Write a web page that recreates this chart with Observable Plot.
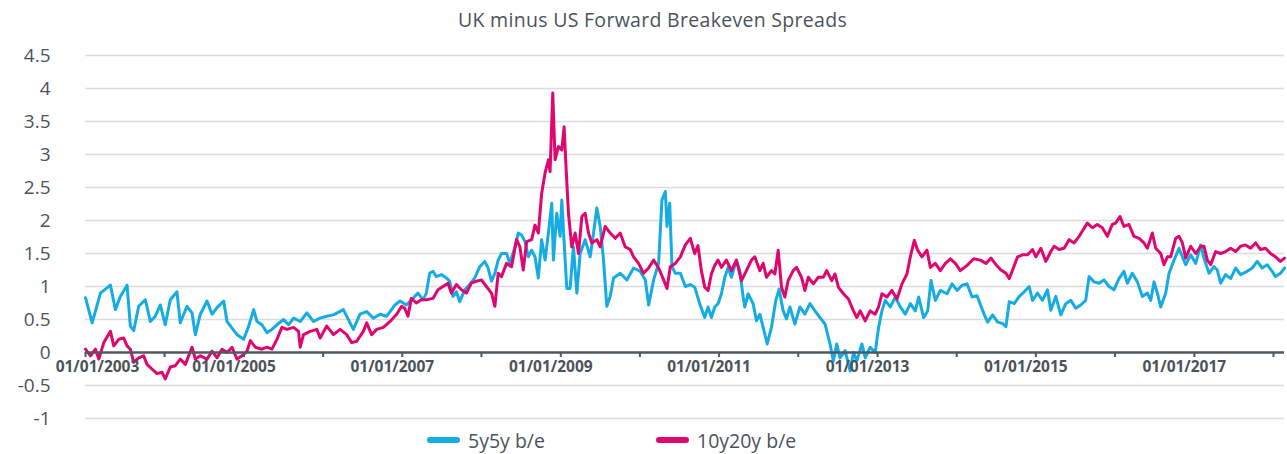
<!DOCTYPE html>
<html>
<head>
<meta charset="utf-8">
<script src="https://cdn.jsdelivr.net/npm/d3@7"></script>
<script src="https://cdn.jsdelivr.net/npm/@observablehq/plot@0.6"></script>
<style>
  html, body { margin: 0; padding: 0; background: #ffffff; }
  #wrap { position: relative; width: 1287px; height: 454px; overflow: hidden; font-family: "Open Sans", "DejaVu Sans", sans-serif; color: #4b535a; }
  #title { position: absolute; left: 0; top: 0; width: 1287px; height: 36px; text-align: center; font-size: 19.5px; letter-spacing: 0.3px; line-height: 40px; padding-left: 18px; box-sizing: border-box; }
  #chart { position: absolute; left: 0; top: 36px; }
  #legend { position: absolute; left: 0; top: 426px; width: 1287px; height: 28px; }
  .item { position: absolute; top: 0; height: 28px; display: flex; align-items: center; font-size: 19.5px; }
  .sw { width: 33px; height: 6px; border-radius: 3px; margin-right: 8px; }
</style>
</head>
<body>
<div id="wrap">
  <div id="title"></div>
  <div id="chart"></div>
  <div id="legend"></div>
</div>
<script>
const chartTitle = "UK minus US Forward Breakeven Spreads";
const seriesNames = ["5y5y b/e", "10y20y b/e"];
const seriesColors = ["#14ACE3", "#E0066F"];
const yTicks = [-1, -0.5, 0, 0.5, 1, 1.5, 2, 2.5, 3, 3.5, 4, 4.5];
const xTickYears = [2003, 2004, 2005, 2006, 2007, 2008, 2009, 2010, 2011, 2012, 2013, 2014, 2015, 2016, 2017, 2018];
const xLabelYears = [2003, 2005, 2007, 2009, 2011, 2013, 2015, 2017];

// 5y5y b/e (decimal year, value)
const blueYears = [2003.0,2003.084,2003.189,2003.315,2003.378,2003.441,2003.525,2003.567,2003.609,2003.672,2003.756,2003.819,2003.882,2003.945,2004.008,2004.071,2004.155,2004.197,2004.282,2004.345,2004.387,2004.45,2004.534,2004.597,2004.66,2004.744,2004.786,2004.849,2004.912,2004.996,2005.059,2005.122,2005.164,2005.227,2005.29,2005.353,2005.416,2005.5,2005.563,2005.626,2005.71,2005.794,2005.878,2005.962,2006.046,2006.13,2006.256,2006.34,2006.382,2006.466,2006.55,2006.634,2006.718,2006.803,2006.908,2006.971,
2007.051,2007.135,2007.198,2007.262,2007.304,2007.346,2007.388,2007.43,2007.494,2007.557,2007.599,2007.641,2007.684,2007.726,2007.789,2007.852,2007.916,2007.979,2008.042,2008.084,2008.127,2008.169,2008.211,2008.253,2008.316,2008.359,2008.422,2008.464,2008.506,2008.549,2008.591,2008.633,2008.675,2008.717,2008.759,2008.802,2008.844,2008.886,2008.907,2008.949,2008.992,2009.013,2009.055,2009.076,2009.118,2009.16,2009.203,2009.245,2009.308,2009.371,2009.414,2009.456,2009.498,2009.54,2009.582,2009.624,2009.667,2009.751,2009.835,2009.92,2010.004,2010.068,2010.11,2010.173,2010.236,2010.278,2010.321,2010.342,2010.376,2010.405,2010.447,2010.511,2010.574,2010.637,
2010.692,2010.755,2010.819,2010.861,2010.903,2010.945,2010.987,2011.03,2011.072,2011.114,2011.156,2011.219,2011.262,2011.304,2011.325,2011.367,2011.43,2011.473,2011.515,2011.557,2011.608,2011.662,2011.717,2011.759,2011.81,2011.852,2011.895,2011.958,2012.021,2012.084,2012.148,2012.211,2012.274,2012.338,2012.401,2012.443,2012.485,2012.527,2012.591,2012.654,2012.696,2012.738,2012.802,2012.844,2012.907,2012.97,2013.013,2013.055,2013.097,2013.16,2013.224,2013.287,2013.35,2013.414,2013.477,2013.519,2013.582,2013.633,2013.675,2013.73,2013.793,2013.878,2013.941,2014.004,2014.068,2014.131,2014.194,2014.257,
2014.349,2014.391,2014.454,2014.517,2014.58,2014.622,2014.664,2014.727,2014.79,2014.853,2014.916,2014.958,2015.021,2015.084,2015.147,2015.189,2015.252,2015.315,2015.378,2015.441,2015.504,2015.567,2015.63,2015.672,2015.735,2015.798,2015.861,2015.924,2015.987,2016.05,2016.113,2016.155,2016.218,2016.282,2016.345,2016.408,2016.45,2016.492,2016.534,2016.576,2016.639,2016.681,2016.744,2016.807,2016.849,2016.891,2016.954,2017.017,2017.08,2017.122,2017.185,2017.248,2017.29,2017.332,2017.395,2017.458,2017.521,2017.584,2017.668,2017.731,2017.794,2017.857,2017.92,2017.983,2018.025,2018.088,2018.139];
const blueValues = [0.83,0.45,0.9,1.02,0.65,0.85,1.02,0.4,0.33,0.7,0.8,0.47,0.55,0.72,0.42,0.8,0.92,0.45,0.7,0.6,0.27,0.58,0.78,0.58,0.68,0.78,0.47,0.37,0.27,0.2,0.4,0.65,0.47,0.42,0.3,0.35,0.42,0.5,0.42,0.52,0.47,0.6,0.47,0.52,0.55,0.57,0.65,0.45,0.35,0.58,0.62,0.52,0.58,0.55,0.72,0.78,
0.72,0.82,0.9,0.8,0.9,1.2,1.23,1.15,1.18,1.13,1.08,0.85,0.92,0.77,0.95,1.03,1.13,1.3,1.38,1.28,1.08,1.2,1.4,1.5,1.5,1.35,1.6,1.81,1.78,1.68,1.45,1.55,1.45,1.13,1.71,1.4,1.81,2.26,1.4,2.11,1.76,2.31,1.4,0.97,0.97,1.6,0.9,1.5,1.71,1.45,1.81,2.19,1.91,1.4,0.7,0.85,1.13,1.2,1.1,1.28,1.23,1.1,0.72,1.1,1.35,2.31,2.44,1.91,2.26,1.3,1.2,1.2,1.0,1.03,
0.99,0.74,0.53,0.69,0.53,0.69,0.74,0.89,1.14,1.29,1.14,1.4,1.24,0.84,0.69,0.89,0.74,0.48,0.58,0.38,0.13,0.38,0.79,0.96,0.63,0.51,0.69,0.43,0.69,0.58,0.74,0.63,0.53,0.43,0.13,-0.13,0.13,-0.08,0.03,-0.28,0,-0.13,0.13,-0.08,0.08,0,0.38,0.63,0.79,0.69,0.84,0.69,0.58,0.74,0.63,0.84,0.53,0.63,1.09,0.79,0.94,0.89,1.04,0.94,1.02,1.04,0.84,0.86,
0.57,0.46,0.57,0.46,0.44,0.39,0.77,0.74,0.85,0.92,1.0,0.79,0.9,0.79,0.95,0.64,0.85,0.57,0.74,0.79,0.67,0.72,0.79,1.15,1.07,1.05,1.1,1.0,0.95,1.12,1.23,1.05,1.2,1.07,0.85,0.9,0.79,1.07,0.9,0.69,0.9,1.2,1.4,1.58,1.45,1.33,1.48,1.35,1.63,1.43,1.2,1.3,1.25,1.05,1.18,1.12,1.28,1.18,1.23,1.28,1.38,1.28,1.33,1.23,1.15,1.2,1.28];

// 10y20y b/e (decimal year, value)
const pinkYears = [2003.0,2003.063,2003.126,2003.168,2003.231,2003.315,2003.357,2003.42,2003.483,2003.525,2003.567,2003.609,2003.672,2003.735,2003.777,2003.84,2003.903,2003.966,2004.008,2004.071,2004.134,2004.197,2004.261,2004.345,2004.387,2004.45,2004.534,2004.597,2004.66,2004.723,2004.786,2004.849,2004.912,2004.975,2005.038,2005.08,2005.143,2005.227,2005.29,2005.353,2005.416,2005.479,2005.542,2005.626,2005.689,2005.71,2005.752,2005.836,2005.92,2005.962,2006.046,2006.13,2006.214,2006.298,2006.361,2006.424,2006.508,2006.55,2006.613,2006.676,2006.761,2006.845,2006.929,2006.992,
2007.03,2007.072,2007.114,2007.177,2007.241,2007.304,2007.388,2007.451,2007.515,2007.578,2007.62,2007.684,2007.747,2007.81,2007.873,2007.937,2008.0,2008.063,2008.127,2008.169,2008.211,2008.253,2008.316,2008.38,2008.443,2008.485,2008.527,2008.57,2008.633,2008.675,2008.717,2008.759,2008.802,2008.844,2008.865,2008.899,2008.928,2008.97,2009.013,2009.042,2009.068,2009.097,2009.139,2009.181,2009.224,2009.266,2009.308,2009.35,2009.392,2009.456,2009.498,2009.561,2009.624,2009.688,2009.751,2009.814,2009.878,2009.92,2009.983,2010.046,2010.11,2010.173,2010.236,2010.3,2010.342,2010.384,2010.447,2010.511,2010.574,2010.637,
2010.692,2010.734,2010.776,2010.819,2010.861,2010.903,2010.945,2010.987,2011.03,2011.093,2011.156,2011.219,2011.283,2011.346,2011.409,2011.451,2011.515,2011.557,2011.599,2011.662,2011.705,2011.747,2011.789,2011.831,2011.873,2011.937,2011.979,2012.042,2012.084,2012.127,2012.19,2012.253,2012.316,2012.359,2012.422,2012.464,2012.506,2012.57,2012.633,2012.696,2012.738,2012.781,2012.844,2012.907,2012.97,2013.013,2013.055,2013.118,2013.181,2013.245,2013.308,2013.371,2013.414,2013.464,2013.506,2013.561,2013.624,2013.667,2013.73,2013.793,2013.857,2013.92,2013.983,2014.046,2014.131,2014.215,2014.3,
2014.37,2014.433,2014.496,2014.559,2014.622,2014.664,2014.706,2014.769,2014.832,2014.895,2014.958,2015.0,2015.063,2015.126,2015.189,2015.231,2015.294,2015.357,2015.42,2015.483,2015.546,2015.588,2015.651,2015.714,2015.777,2015.84,2015.903,2015.966,2016.008,2016.063,2016.113,2016.176,2016.239,2016.303,2016.366,2016.408,2016.471,2016.513,2016.576,2016.618,2016.66,2016.702,2016.765,2016.807,2016.849,2016.891,2016.954,2017.017,2017.08,2017.122,2017.164,2017.206,2017.269,2017.332,2017.395,2017.458,2017.521,2017.584,2017.647,2017.71,2017.773,2017.836,2017.899,2017.962,2018.025,2018.088,2018.139];
const pinkValues = [0.05,-0.05,0.05,-0.1,0.15,0.32,0.1,0.2,0.22,0.1,0.05,-0.15,-0.08,-0.05,-0.18,-0.25,-0.32,-0.3,-0.4,-0.22,-0.2,-0.1,-0.18,0.08,-0.1,-0.05,-0.1,0.02,-0.08,0.05,0,0.08,-0.1,-0.05,0.02,0.18,0.08,0.05,0.08,0.05,0.2,0.38,0.35,0.38,0.32,0.08,0.27,0.32,0.35,0.22,0.4,0.27,0.35,0.27,0.15,0.17,0.32,0.45,0.27,0.35,0.38,0.47,0.58,0.7,
0.67,0.55,0.82,0.75,0.8,0.8,0.82,0.95,1.0,1.05,0.9,1.03,0.95,0.9,1.05,1.08,1.1,1.0,0.9,0.7,1.2,1.15,1.35,1.3,1.71,1.6,1.25,1.68,1.71,1.93,1.81,2.41,2.72,2.92,2.74,3.93,2.92,3.12,3.07,3.42,2.77,2.11,1.6,1.81,1.5,2.06,2.11,1.81,1.66,1.71,1.6,1.91,1.81,1.73,1.81,1.6,1.56,1.45,1.35,1.2,1.28,1.4,1.28,1.1,0.97,1.3,1.35,1.45,1.63,1.73,
1.5,1.62,1.24,0.99,0.94,1.19,1.32,1.4,1.29,1.4,1.24,1.4,1.09,1.24,1.4,1.45,1.24,1.35,1.14,1.24,1.19,1.55,0.99,0.84,1.09,1.24,1.29,1.14,0.94,1.14,1.04,1.14,1.14,1.24,1.09,1.19,0.99,0.89,0.81,0.63,0.53,0.63,0.48,0.63,0.58,0.69,0.89,0.84,0.94,0.81,1.04,1.19,1.45,1.7,1.55,1.45,1.55,1.29,1.35,1.24,1.35,1.42,1.35,1.24,1.32,1.42,1.4,
1.35,1.43,1.33,1.25,1.2,1.12,1.25,1.45,1.48,1.48,1.56,1.45,1.58,1.38,1.53,1.61,1.56,1.58,1.71,1.66,1.76,1.84,1.96,1.89,1.94,1.89,1.76,1.94,1.96,2.06,1.91,1.94,1.76,1.73,1.66,1.58,1.81,1.58,1.5,1.33,1.45,1.45,1.73,1.76,1.66,1.43,1.61,1.5,1.61,1.61,1.4,1.33,1.53,1.5,1.53,1.58,1.53,1.61,1.63,1.58,1.66,1.56,1.58,1.5,1.45,1.38,1.43];

function toDate(y) {
  const yr = Math.floor(y);
  const a = Date.UTC(yr, 0, 1), b = Date.UTC(yr + 1, 0, 1);
  return new Date(a + (y - yr) * (b - a));
}
const blue = blueYears.map((y, i) => ({date: toDate(y), value: blueValues[i]}));
const pink = pinkYears.map((y, i) => ({date: toDate(y), value: pinkValues[i]}));
const tickDates = xTickYears.map(y => toDate(y));
const labelDates = xLabelYears.map(y => toDate(y));
const fmt = d3.utcFormat("%d/%m/%Y");
const textColor = "#4b535a";
const lastYear = Math.max(blueYears[blueYears.length - 1], pinkYears[pinkYears.length - 1]);

document.getElementById("title").textContent = chartTitle;

const chart = Plot.plot({
  width: 1287,
  height: 390,
  marginLeft: 85,
  marginRight: 3,
  marginTop: 19,
  marginBottom: 8,
  style: {fontFamily: "'Open Sans', 'DejaVu Sans', sans-serif", background: "#ffffff", overflow: "visible"},
  x: {type: "utc", domain: [toDate(2003), toDate(lastYear)], axis: null},
  y: {domain: [-1, 4.5], axis: null},
  marks: [
    Plot.ruleY(yTicks.filter(v => v !== 0), {stroke: "#dcdcdc", strokeWidth: 1.6}),
    Plot.text(yTicks, {y: d => d, frameAnchor: "left", textAnchor: "end", dx: -35, text: d => String(d), fontSize: 19, fill: textColor}),
    Plot.line(blue, {x: "date", y: "value", stroke: seriesColors[0], strokeWidth: 3, strokeLinejoin: "round"}),
    Plot.line(pink, {x: "date", y: "value", stroke: seriesColors[1], strokeWidth: 3, strokeLinejoin: "round"}),
    Plot.ruleY([0], {stroke: "#50585e", strokeWidth: 2.5}),
    Plot.ruleX(tickDates, {x: d => d, y1: 0, y2: 0, insetBottom: -5, stroke: "#50585e", strokeWidth: 2}),
    Plot.text(labelDates.slice(0, 1), {x: d => d, y: 0, text: d => fmt(d), dy: 15, dx: 12, fontSize: 15.5, fontWeight: "bold", fill: textColor}),
    Plot.text(labelDates.slice(1), {x: d => d, y: 0, text: d => fmt(d), dy: 15, dx: -10, fontSize: 15.5, fontWeight: "bold", fill: textColor})
  ]
});
document.getElementById("chart").appendChild(chart);

const legendLefts = [427, 656];
const legend = document.getElementById("legend");
seriesNames.forEach((name, i) => {
  const item = document.createElement("div");
  item.className = "item";
  item.style.left = legendLefts[i] + "px";
  const sw = document.createElement("span");
  sw.className = "sw";
  sw.style.background = seriesColors[i];
  const label = document.createElement("span");
  label.textContent = name;
  item.appendChild(sw);
  item.appendChild(label);
  legend.appendChild(item);
});
</script>
</body>
</html>
